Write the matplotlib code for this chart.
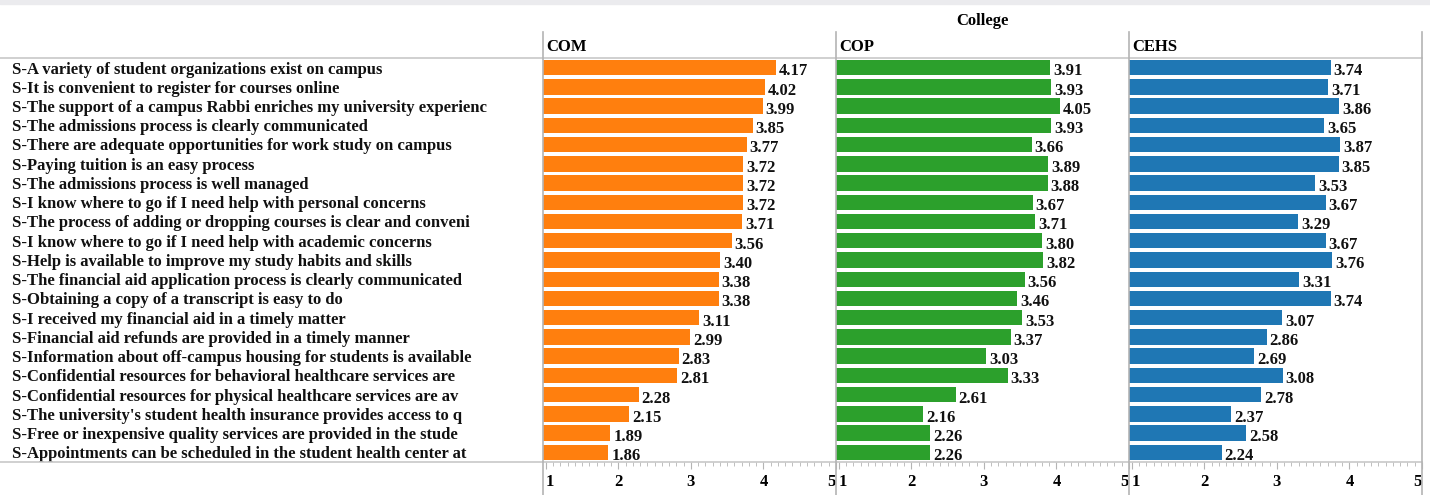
import numpy as np
import matplotlib
matplotlib.use("Agg")
import matplotlib.pyplot as plt
from matplotlib.lines import Line2D
from matplotlib.patches import Rectangle
from matplotlib.transforms import blended_transform_factory

# Dati
questions = [
    "S-A variety of student organizations exist on campus",
    "S-It is convenient to register for courses online",
    "S-The support of a campus Rabbi enriches my university experienc",
    "S-The admissions process is clearly communicated",
    "S-There are adequate opportunities for work study on campus",
    "S-Paying tuition is an easy process",
    "S-The admissions process is well managed",
    "S-I know where to go if I need help with personal concerns",
    "S-The process of adding or dropping courses is clear and conveni",
    "S-I know where to go if I need help with academic concerns",
    "S-Help is available to improve my study habits and skills",
    "S-The financial aid application process is clearly communicated",
    "S-Obtaining a copy of a transcript is easy to do",
    "S-I received my financial aid in a timely matter",
    "S-Financial aid refunds are provided in a timely manner",
    "S-Information about off-campus housing for students is available",
    "S-Confidential resources for behavioral healthcare services are",
    "S-Confidential resources for physical healthcare services are av",
    "S-The university's student health insurance provides access to q",
    "S-Free or inexpensive quality services are provided in the stude",
    "S-Appointments can be scheduled in the student health center at",
]
colleges = ["COM", "COP", "CEHS"]
com = [4.17, 4.02, 3.99, 3.85, 3.77, 3.72, 3.72, 3.72, 3.71, 3.56, 3.40,
       3.38, 3.38, 3.11, 2.99, 2.83, 2.81, 2.28, 2.15, 1.89, 1.86]
cop = [3.91, 3.93, 4.05, 3.93, 3.66, 3.89, 3.88, 3.67, 3.71, 3.80, 3.82,
       3.56, 3.46, 3.53, 3.37, 3.03, 3.33, 2.61, 2.16, 2.26, 2.26]
cehs = [3.74, 3.71, 3.86, 3.65, 3.87, 3.85, 3.53, 3.67, 3.29, 3.67, 3.76,
        3.31, 3.74, 3.07, 2.86, 2.69, 3.08, 2.78, 2.37, 2.58, 2.24]
xticks = [1, 2, 3, 4, 5]

series = [com, cop, cehs]
colors = ["#ff7f0e", "#2ca02c", "#1f77b4"]

plt.rcParams['font.family'] = ['Liberation Serif', 'DejaVu Serif']
plt.rcParams['font.weight'] = 'bold'
FS = 12

W, H = 1430, 495
fig = plt.figure(figsize=(W / 100, H / 100), dpi=100)

def fx(px):
    return px / W

def fy(py):
    return 1 - py / H

# Geometria (pixel)
panel_x = [543, 836, 1129, 1422]
top_y, bot_y = 58, 462
grid_col = "#c8c8c8"
border_col = "#b4b4b4"

# banda grigia in alto
fig.patches.append(Rectangle((0, fy(4)), 1, 4 / H, transform=fig.transFigure,
                             color="#ebebee", zorder=0))

n = len(questions)
y = np.arange(n)
axes = []
for k in range(3):
    ax = fig.add_axes([fx(panel_x[k]), fy(bot_y), fx(panel_x[k + 1] - panel_x[k]),
                       (bot_y - top_y) / H])
    ax.barh(y, series[k], left=0, height=0.8, color=colors[k], zorder=2)
    ax.set_xlim(0.96, 5.0)
    ax.set_ylim(n - 0.5, -0.5)
    ax.set_yticks([])
    for s in ax.spines.values():
        s.set_visible(False)
    ax.set_xticks(xticks)
    ax.set_xticks(np.arange(1, 5.01, 0.1), minor=True)
    ax.tick_params(axis='x', which='major', length=5, color=border_col,
                   labelsize=FS, pad=4)
    ax.tick_params(axis='x', which='minor', length=3, color=border_col)
    tl = ax.get_xticklabels()
    tl[0].set_ha('left')
    tl[-1].set_ha('right')
    for v, yy in zip(series[k], y):
        ax.text(v + 0.04, yy + 0.2, f"{v:.2f}", va='center', ha='left',
                fontsize=FS, fontweight='bold', color="#111111", clip_on=False)
    fig.text(fx(panel_x[k] + 3), fy(47), colleges[k], ha='left', va='center',
             fontsize=FS, fontweight='bold')
    axes.append(ax)

# etichette delle domande
tr = blended_transform_factory(fig.transFigure, axes[0].transData)
for q, yy in zip(questions, y):
    axes[0].text(fx(12), yy + 0.1, q, transform=tr, ha='left', va='center',
                 fontsize=FS, fontweight='bold', color="#111111", clip_on=False)

fig.text(fx(982), fy(21), "College", ha='center', va='center',
         fontsize=FS, fontweight='bold')

# linee di intestazione e di base
for py in (top_y, bot_y):
    fig.add_artist(Line2D([0, fx(1422)], [fy(py), fy(py)], color=grid_col, lw=1.2))
for px in panel_x:
    fig.add_artist(Line2D([fx(px), fx(px)], [fy(32), 0], color=border_col, lw=1.2))

fig.savefig("out.png", dpi=100)
